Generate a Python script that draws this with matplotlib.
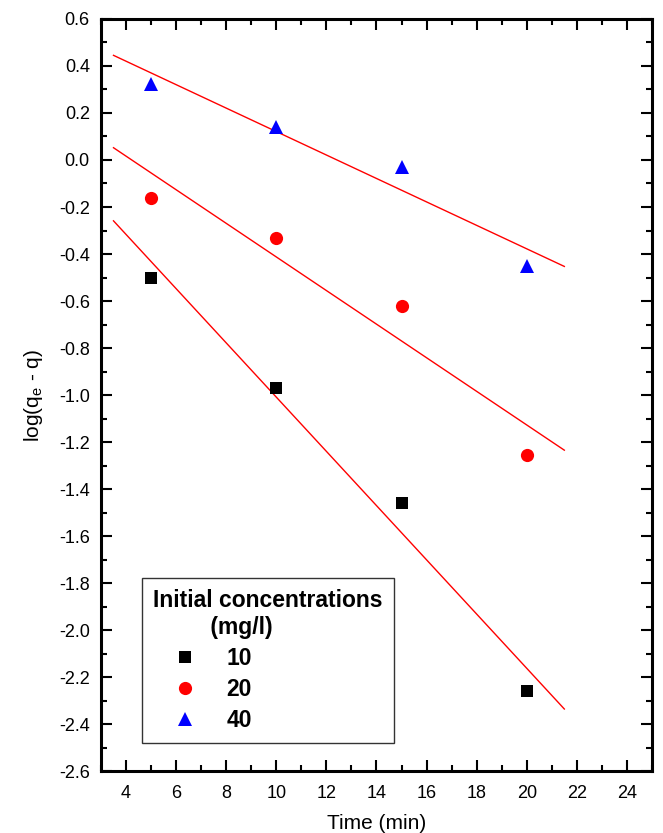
import numpy as np
import matplotlib
matplotlib.use("Agg")
import matplotlib.pyplot as plt
from matplotlib.ticker import MultipleLocator, FuncFormatter

plt.rcParams['font.family'] = ['Liberation Sans', 'DejaVu Sans']

time = [5, 10, 15, 20]
conc_labels = ["10", "20", "40"]
log_q_10 = [-0.50, -0.97, -1.46, -2.26]
log_q_20 = [-0.16, -0.33, -0.62, -1.255]
log_q_40 = [0.325, 0.14, -0.03, -0.45]
fit_x_range = [3.5, 21.5]

series = [log_q_10, log_q_20, log_q_40]
markers = ['s', 'o', '^']
colors = ['black', 'red', 'blue']
msizes = [8.5, 9.5, 10.5]

fig = plt.figure(figsize=(6.63, 8.33), dpi=100)
ax = fig.add_axes([0.1523, 0.0744, 0.8311, 0.9028])

handles = []
for ys, m, c, ms, lab in zip(series, markers, colors, msizes, conc_labels):
    h, = ax.plot(time, ys, linestyle='none', marker=m, color=c, markersize=ms,
                 markeredgewidth=0, label=lab, zorder=3)
    handles.append(h)
    slope, icpt = np.polyfit(time, ys, 1)
    xs = np.array(fit_x_range)
    ax.plot(xs, slope * xs + icpt, color='red', linewidth=1.0, zorder=2)

ax.set_xlim(3, 25)
ax.set_ylim(-2.6, 0.6)
ax.xaxis.set_major_locator(MultipleLocator(2))
ax.xaxis.set_minor_locator(MultipleLocator(1))
ax.yaxis.set_major_locator(MultipleLocator(0.2))
ax.yaxis.set_minor_locator(MultipleLocator(0.1))
ax.tick_params(which='both', direction='in', top=True, right=True,
               labelsize=13, width=1.5)
ax.tick_params(which='major', length=8)
ax.tick_params(which='minor', length=4.5)
ax.tick_params(axis='x', pad=10)
ax.tick_params(axis='y', pad=8)
ax.yaxis.set_major_formatter(FuncFormatter(lambda v, p: f"{v:.1f}".replace("-0.0", "0.0")))
for s in ax.spines.values():
    s.set_linewidth(2.2)

ax.set_xlabel("Time (min)", fontsize=15, labelpad=9)
ax.set_ylabel("log(q$_{\\mathregular{e}}$ - q)", fontsize=15, labelpad=10)

leg = ax.legend(handles=handles, title="Initial concentrations\n         (mg/l)",
                loc='lower left', bbox_to_anchor=(0.074, 0.037), borderaxespad=0,
                prop={'weight': 'bold', 'size': 16.5},
                title_fontproperties={'weight': 'bold', 'size': 16.5},
                frameon=True, fancybox=False, edgecolor='black',
                handlelength=2.8, handletextpad=0.4, borderpad=0.5,
                labelspacing=0.35)
leg.get_frame().set_linewidth(1.0)
leg._legend_box.align = "left"
leg.get_title().set_multialignment('left')

fig.savefig("out.png", dpi=100)
